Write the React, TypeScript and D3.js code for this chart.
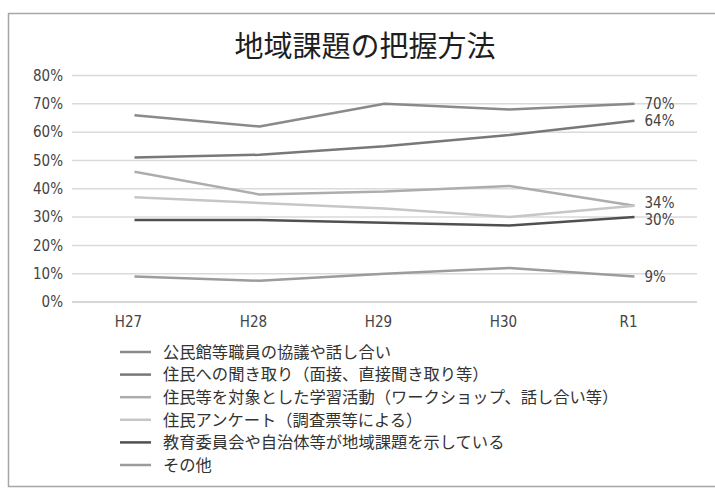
import React from "react";
import * as d3 from "d3";

const categories = ["H27", "H28", "H29", "H30", "R1"];
const seriesNames = [
  "公民館等職員の協議や話し合い",
  "住民への聞き取り（面接、直接聞き取り等）",
  "住民等を対象とした学習活動（ワークショップ、話し合い等）",
  "住民アンケート（調査票等による）",
  "教育委員会や自治体等が地域課題を示している",
  "その他",
];
const s1 = [66, 62, 70, 68, 70];
const s2 = [51, 52, 55, 59, 64];
const s3 = [46, 38, 39, 41, 34];
const s4 = [37, 35, 33, 30, 34];
const s5 = [29, 29, 28, 27, 30];
const s6 = [9, 7.5, 10, 12, 9];
const seriesValues = [s1, s2, s3, s4, s5, s6];
const seriesColors = ["#8a8a8a", "#787878", "#adadad", "#c6c6c6", "#505050", "#9c9c9c"];
const endLabels = ["70%", "64%", "34%", "", "30%", "9%"];
const yTicks = [0, 10, 20, 30, 40, 50, 60, 70, 80];
const title = "地域課題の把握方法";

export default function App() {
  const W = 715, H = 488;
  const left = 72, right = 697, top = 75.5, bottom = 302;
  const x = d3.scaleBand<string>().domain(categories).range([left, right]);
  const y = d3.scaleLinear().domain([0, 80]).range([bottom, top]);
  const cx = (c: string) => (x(c) as number) + x.bandwidth() / 2;
  const line = d3
    .line<number>()
    .x((_, i) => cx(categories[i]))
    .y((d) => y(d));
  const font = "'Noto Sans CJK JP', 'Noto Sans', sans-serif";
  const numFont = "'DejaVu Sans Condensed', 'Liberation Sans Narrow', sans-serif";
  const labelDy = [0, 0, -3, 0, 3, 0];
  return (
    <svg width={W} height={H} style={{ position: "absolute", left: 0, top: 0, background: "#fff" }} fontFamily={font}>
      <rect x={8.5} y={13.5} width={720} height={473} fill="#fff" stroke="#a6a6a6" strokeWidth={1.5} />
      <text x={365} y={57} textAnchor="middle" fontSize={29} fill="#1e1e1e">{title}</text>
      {yTicks.map((t) => (
        <g key={t}>
          <line x1={left} x2={right} y1={y(t)} y2={y(t)} stroke={t === 0 ? "#c8c8c8" : "#dadada"} strokeWidth={1.5} />
          <text x={63} y={y(t)} dy="0.35em" textAnchor="end" fontSize={15} fill="#444" fontFamily={numFont}>{t}%</text>
        </g>
      ))}
      {categories.map((c) => (
        <text key={c} x={cx(c) - 6} y={322} dy="0.35em" textAnchor="middle" fontSize={15} fill="#444" fontFamily={numFont}>{c}</text>
      ))}
      {seriesValues.map((vals, i) => (
        <path key={i} d={line(vals) as string} fill="none" stroke={seriesColors[i]} strokeWidth={2.5} strokeLinejoin="round" />
      ))}
      {seriesValues.map((vals, i) =>
        endLabels[i] ? (
          <text key={"l" + i} x={cx(categories[4]) + 10} y={y(vals[4]) + labelDy[i]} dy="0.35em" fontSize={15} fill="#444" fontFamily={numFont}>{endLabels[i]}</text>
        ) : null
      )}
      {seriesNames.map((n, i) => {
        const ly = 352 + i * 22.6;
        return (
          <g key={n}>
            <line x1={120} x2={151} y1={ly} y2={ly} stroke={seriesColors[i]} strokeWidth={2.5} />
            <text x={163} y={ly} dy="0.35em" fontSize={16.3} fill="#333">{n}</text>
          </g>
        );
      })}
    </svg>
  );
}
